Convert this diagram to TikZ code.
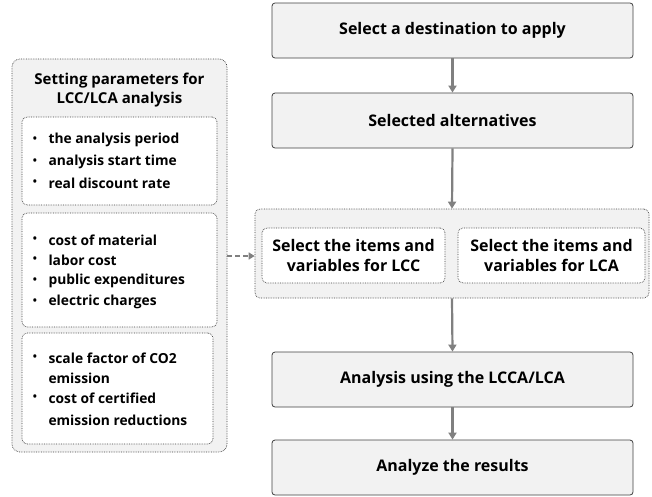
\documentclass[tikz,border=0pt]{standalone}
\usepackage{fontspec}
\setmainfont{Open Sans}
\usetikzlibrary{arrows.meta}
\definecolor{boxfill}{HTML}{F2F2F2}
\definecolor{boxline}{HTML}{404040}
\definecolor{arrowgray}{HTML}{808080}
\tikzset{
  mainbox/.style={draw=boxline, fill=boxfill, rounded corners=3pt, line width=0.8pt, font=\bfseries\fontsize{16}{19}\selectfont},
  panel/.style={draw=boxline, fill=boxfill, rounded corners=8pt, densely dotted, line width=0.7pt},
  inner/.style={draw=boxline, fill=white, rounded corners=5pt, densely dotted, line width=0.7pt},
  flow/.style={draw=arrowgray, line width=2.2pt, -{Triangle[length=7pt,width=8pt]}},
  dflow/.style={draw=arrowgray, line width=1.6pt, dash pattern=on 5pt off 3pt, -{Triangle[length=6pt,width=7pt]}},
  itemtxt/.style={anchor=west, font=\bfseries\fontsize{13.8}{16}\selectfont},
  bul/.style={anchor=center, font=\bfseries\fontsize{11}{12}\selectfont}
}
\begin{document}
\begin{tikzpicture}[x=1pt,y=-1pt]
\useasboundingbox (0,0) rectangle (652,496);
% right column boxes
\node[mainbox, minimum width=361pt, minimum height=55pt] (b1) at (452.5,30.5) {Select a destination to apply};
\node[mainbox, minimum width=361pt, minimum height=55pt] (b2) at (452.5,120.5) {Selected alternatives};
% group
\node[panel, rounded corners=5pt, minimum width=394pt, minimum height=89pt] (grp) at (452,253.5) {};
\node[inner, minimum width=183pt, minimum height=55pt, font=\bfseries\fontsize{16}{20}\selectfont, align=center] (lcc) at (353.5,255.5) {Select the items and\\variables for LCC};
\node[inner, minimum width=187pt, minimum height=55pt, font=\bfseries\fontsize{16}{20}\selectfont, align=center] (lca) at (551.5,255.5) {Select the items and\\variables for LCA};
\node[mainbox, minimum width=361pt, minimum height=55pt] (b3) at (452.5,379.5) {Analysis using the LCCA/LCA};
\node[mainbox, minimum width=361pt, minimum height=55pt] (b4) at (452.5,467.5) {Analyze the results};
% left panel
\node[panel, minimum width=215pt, minimum height=393pt] (lp) at (119.5,255.5) {};
\node[font=\bfseries\fontsize{15}{19}\selectfont, align=center] (title) at (119.5,90) {Setting parameters for\\LCC/LCA analysis};
\node[inner, minimum width=195pt, minimum height=88pt] (p1) at (119.5,161) {};
\node[inner, minimum width=195pt, minimum height=114pt] (p2) at (119.5,270) {};
\node[inner, minimum width=191pt, minimum height=111pt] (p3) at (117.5,388.5) {};
% items
\foreach \yy/\tt [count=\i] in {140/the analysis period,162/analysis start time,183/real discount rate,240/cost of material,260/labor cost,281/public expenditures,302/electric charges}{
  \node[bul] (bu\i) at (35,\yy) {•};
  \node[itemtxt] (it\i) at (45,\yy) {\tt};
}
\node[bul] (bu8) at (35,358) {•};
\node[itemtxt] (it8) at (45,358) {scale factor of CO2};
\node[itemtxt] (it9) at (45,378) {emission};
\node[bul] (bu10) at (35,398) {•};
\node[itemtxt] (it10) at (45,398) {cost of certified};
\node[itemtxt] (it11) at (45,420) {emission reductions};
% arrows
\draw[flow] (b1.south) -- (b2.north);
\draw[flow] (b2.south) -- (grp.north);
\draw[flow] (grp.south) -- (b3.north);
\draw[flow] (b3.south) -- (b4.north);
\coordinate (ds) at (lp.east |- 0,256);
\coordinate (de) at (grp.west |- 0,256);
\draw[dflow] (ds) -- (de);
\end{tikzpicture}
\end{document}
